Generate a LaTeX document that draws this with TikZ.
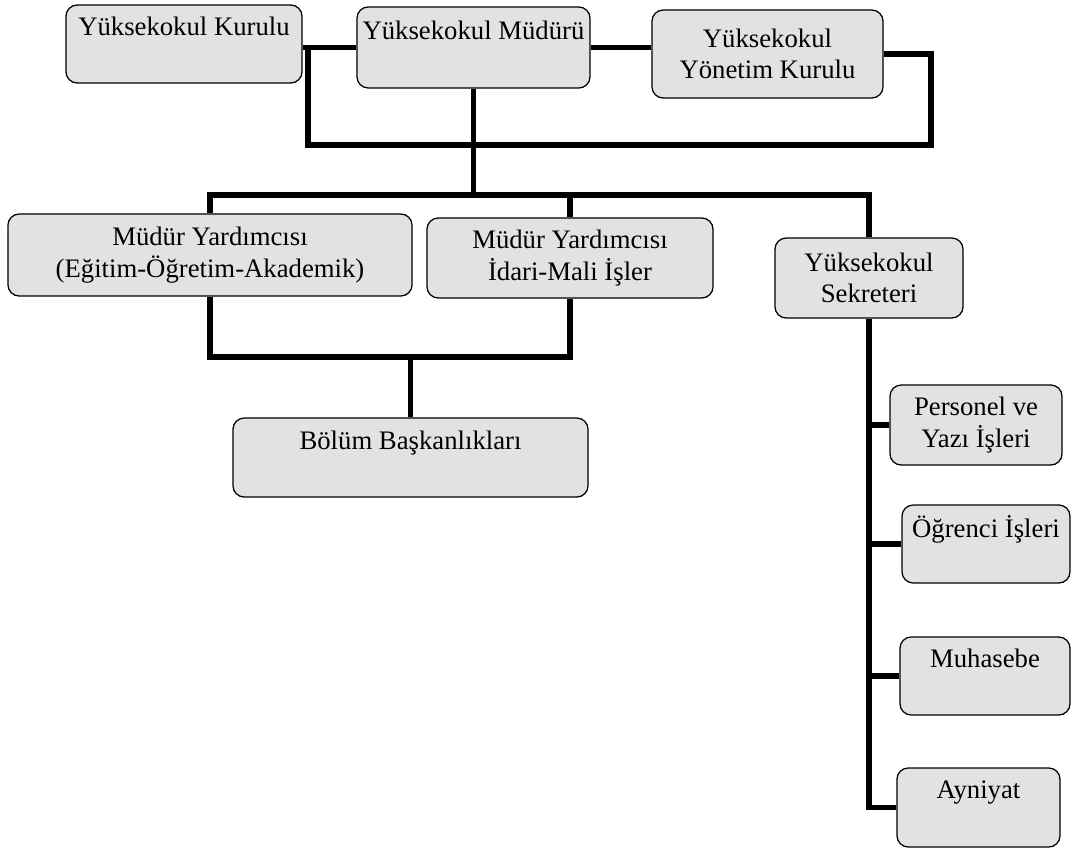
\documentclass[tikz,border=0pt]{standalone}
\usepackage{fontspec}
\setmainfont{Liberation Serif}
\usepackage{xcolor}
\definecolor{BoxFill}{HTML}{E2E2E2}
\tikzset{
 box/.style={draw=black, line width=0.9pt, rounded corners=8pt, fill=BoxFill, align=center, inner sep=2pt, font=\fontsize{19pt}{22.5pt}\selectfont},
 onebox/.style={box, text depth=25pt},
 link/.style={line width=3.6pt, draw=black}
}
\begin{document}
\begin{tikzpicture}[x=0.025cm, y=-0.025cm]
\useasboundingbox (0,0) rectangle (1072,849);
% top row
\node[onebox, minimum width=5.9cm, minimum height=1.95cm] (kurul) at (184,44) {Yüksekokul Kurulu};
\node[onebox, minimum width=5.825cm, minimum height=2.025cm] (mudur) at (473.5,47.5) {Yüksekokul Müdürü};
\node[box, minimum width=5.775cm, minimum height=2.2cm] (yonetim) at (767.5,54) {Yüksekokul\\Yönetim Kurulu};
% second row
\node[box, minimum width=10.1cm, minimum height=2.05cm] (yrdA) at (210,255) {Müdür Yardımcısı\\(Eğitim-Öğretim-Akademik)};
\node[box, minimum width=7.15cm, minimum height=2cm] (yrdB) at (570,258) {Müdür Yardımcısı\\İdari-Mali İşler};
\node[box, minimum width=4.7cm, minimum height=2cm] (sekreter) at (869,278) {Yüksekokul\\Sekreteri};
\node[onebox, minimum width=8.875cm, minimum height=1.975cm] (bolum) at (410.5,457.5) {Bölüm Başkanlıkları};
% secretary units
\node[box, minimum width=4.3cm, minimum height=2cm] (personel) at (976,425) {Personel ve\\Yazı İşleri};
\node[onebox, minimum width=4.2cm, minimum height=1.95cm] (ogrenci) at (986,544) {Öğrenci İşleri};
\node[onebox, minimum width=4.25cm, minimum height=1.95cm] (muhasebe) at (985,676) {Muhasebe};
\node[onebox, minimum width=4.075cm, minimum height=1.975cm] (ayniyat) at (978.5,807.5) {Ayniyat};
% junctions
\coordinate (loopL) at (308,145);
\coordinate (loopR) at (931,145);
\coordinate (tophub) at (473.5,195);
\coordinate (bolumhub) at (410.5,357);
% connectors
\draw[link] (kurul.east |- mudur.west) -- (mudur.west);
\draw[link] (mudur.east) -- (mudur.east -| yonetim.west);
\draw[link] (loopL |- mudur.west) -- (loopL) -- (loopR) |- (yonetim.east);
\draw[link] (mudur.south) -- (tophub);
\draw[link] (yrdA.north) |- (tophub) -| (sekreter.north);
\draw[link] (yrdB.north) -- (yrdB.north |- tophub);
\draw[link] (yrdA.south) |- (bolumhub) -| (yrdB.south);
\draw[link] (bolumhub) -- (bolum.north);
\draw[link] (sekreter.south) |- (ayniyat.west);
\draw[link] (sekreter.south |- personel.west) -- (personel.west);
\draw[link] (sekreter.south |- ogrenci.west) -- (ogrenci.west);
\draw[link] (sekreter.south |- muhasebe.west) -- (muhasebe.west);
\end{tikzpicture}
\end{document}
